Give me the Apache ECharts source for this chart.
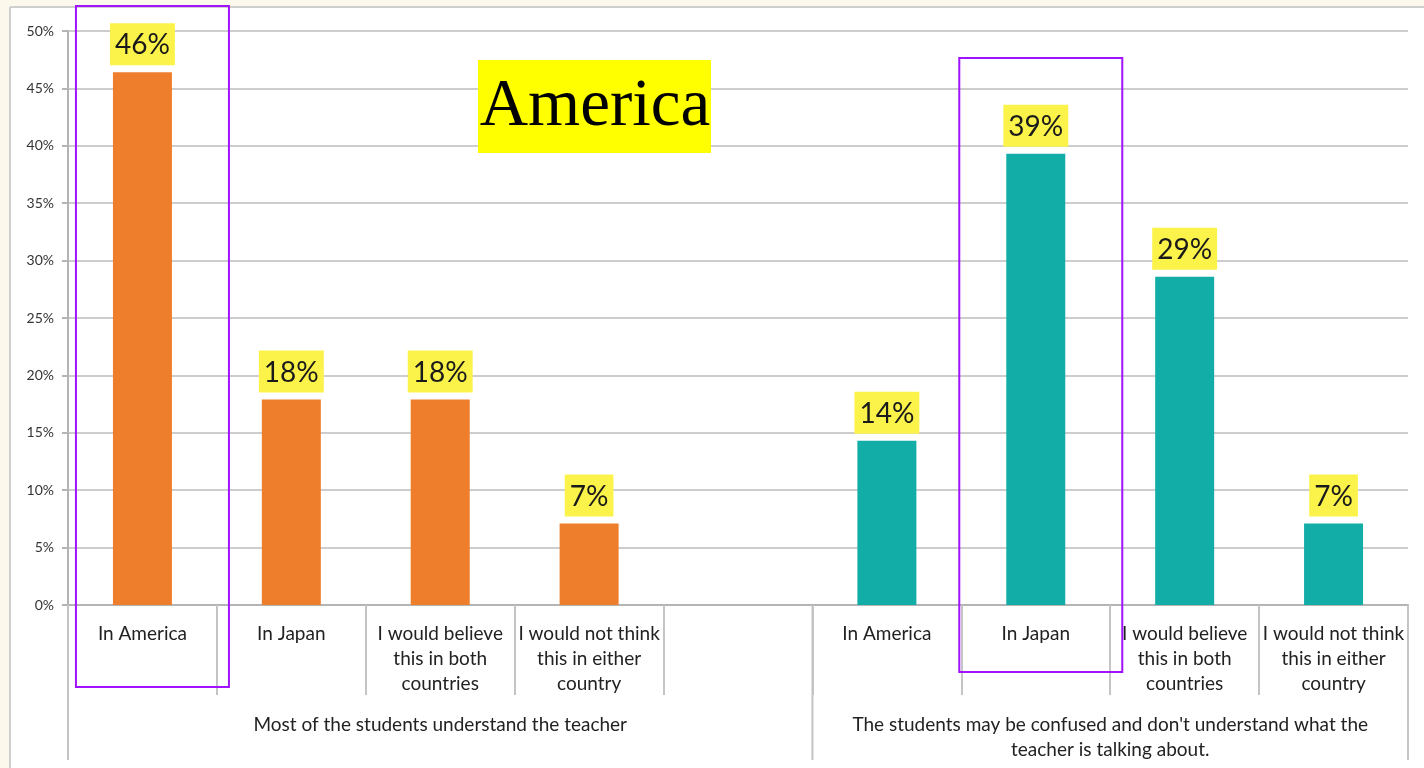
<!DOCTYPE html>
<html>
<head>
<meta charset="utf-8">
<script src="https://cdn.jsdelivr.net/npm/echarts@6/dist/echarts.min.js"></script>
<style>
  html, body { margin: 0; padding: 0; background: #fdf8ec; }
  #chart { width: 1424px; height: 768px; }
</style>
</head>
<body>
<div id="chart"></div>
<script>
// Answer categories, repeated for both situations (blank slot separates the two groups)
const categories = [
  'In America', 'In Japan', 'I would believe\nthis in both\ncountries', 'I would not think\nthis in either\ncountry',
  '',
  'In America', 'In Japan', 'I would believe\nthis in both\ncountries', 'I would not think\nthis in either\ncountry'
];
// Situation headings under the answer labels
const groupLabels = [
  'Most of the students understand the teacher',
  "The students may be confused and don't understand what the\nteacher is talking about."
];
// Share of students (%) for each answer
const understandValues = [46.4, 17.9, 17.9, 7.1, '-', '-', '-', '-', '-'];
const confusedValues = ['-', '-', '-', '-', '-', 14.3, 39.3, 28.6, 7.1];
const yTicks = { min: 0, max: 50, step: 5 };
const chartTitle = 'America';

const FONT = 'Lato, "Open Sans", sans-serif';
const chart = echarts.init(document.getElementById('chart'));

const barLabel = {
  show: true,
  position: 'top',
  distance: 7,
  formatter: p => Math.round(p.value) + '%',
  backgroundColor: '#fbf34a',
  padding: [6, 5, 4, 5],
  fontSize: 28,
  lineHeight: 32,
  color: '#1a1a1a',
  fontFamily: FONT
};

const option = {
  backgroundColor: '#fdf8ec',
  animation: false,
  grid: { left: 68, right: 16, top: 31, bottom: 163, containLabel: false },
  xAxis: {
    type: 'category',
    data: categories,
    axisLine: { show: true, lineStyle: { color: '#b4b4b4', width: 2 } },
    axisTick: { show: true, length: 90, lineStyle: { color: '#c4c4c4', width: 2 } },
    axisLabel: {
      interval: 0, margin: 16, fontSize: 19, lineHeight: 25,
      color: '#222', fontFamily: FONT
    }
  },
  yAxis: {
    type: 'value',
    min: yTicks.min, max: yTicks.max, interval: yTicks.step,
    axisLine: { show: true, lineStyle: { color: '#b4b4b4', width: 2 } },
    axisTick: { show: true, length: 6, lineStyle: { color: '#b4b4b4', width: 2 } },
    axisLabel: { formatter: '{value}%', fontSize: 14, color: '#333', margin: 14, fontFamily: FONT },
    splitLine: { lineStyle: { color: '#cdcdcd', width: 2 } }
  },
  series: [
    {
      type: 'bar', name: 'understand', data: understandValues,
      barWidth: 59, barGap: '-100%',
      itemStyle: { color: '#ee7e2c' }, label: barLabel, z: 3
    },
    {
      type: 'bar', name: 'confused', data: confusedValues,
      barWidth: 59, barGap: '-100%',
      itemStyle: { color: '#12ada6' }, label: barLabel, z: 3
    }
  ]
};
chart.setOption(option);

// Decorations placed from the axis scale
const cx = i => chart.convertToPixel({ xAxisIndex: 0 }, i);
const band = cx(1) - cx(0);
const edge = i => cx(i) - band / 2;           // left boundary of category i
const baseY = chart.convertToPixel({ yAxisIndex: 0 }, 0);
const groupBottom = 760;

const graphics = [
  // white sheet with a thin frame
  { type: 'rect', shape: { x: 11, y: 8, width: 1413, height: 760 }, style: { fill: '#ffffff' }, z: -100, silent: true },
  { type: 'line', shape: { x1: 10, y1: 7, x2: 1424, y2: 7 }, style: { stroke: '#cfcfcf', lineWidth: 2 }, z: -99 },
  { type: 'line', shape: { x1: 10, y1: 7, x2: 10, y2: 768 }, style: { stroke: '#cfcfcf', lineWidth: 2 }, z: -99 }
];

// group separators running down to the headings
[edge(0), edge(5), edge(9)].forEach(x => {
  graphics.push({
    type: 'line', shape: { x1: x, y1: baseY, x2: x, y2: groupBottom },
    style: { stroke: '#c4c4c4', lineWidth: 2 }, z: 5
  });
});

// group headings
const groupCenters = [(edge(0) + edge(5)) / 2, (edge(5) + edge(9)) / 2];
groupLabels.forEach((t, i) => {
  graphics.push({
    type: 'text', x: groupCenters[i], y: baseY + 107,
    style: { text: t, fontSize: 19, lineHeight: 25, fill: '#222', fontFamily: FONT, align: 'center', verticalAlign: 'top' },
    z: 5
  });
});

// title box
graphics.push({
  type: 'group', x: 478, y: 60, z: 50,
  children: [
    { type: 'rect', shape: { x: 0, y: 0, width: 233, height: 93 }, style: { fill: '#ffff00' } },
    {
      type: 'text', x: 117, y: 47,
      style: { text: chartTitle, fontSize: 67, fill: '#000', fontFamily: '"Liberation Serif", "DejaVu Serif", serif', align: 'center', verticalAlign: 'middle' }
    }
  ]
});

// highlight frames around the two emphasised answers
const frames = [
  { cat: 0, dx: 10, w: 153, top: 6, bottom: 687 },
  { cat: 6, dx: 5, w: 163, top: 58, bottom: 672 }
];
frames.forEach(f => {
  const left = cx(f.cat) + f.dx - f.w / 2;
  graphics.push({
    type: 'rect', shape: { x: left, y: f.top, width: f.w, height: f.bottom - f.top },
    style: { fill: 'none', stroke: '#a113ff', lineWidth: 2 }, z: 60
  });
});

chart.setOption({ graphic: graphics });
</script>
</body>
</html>
